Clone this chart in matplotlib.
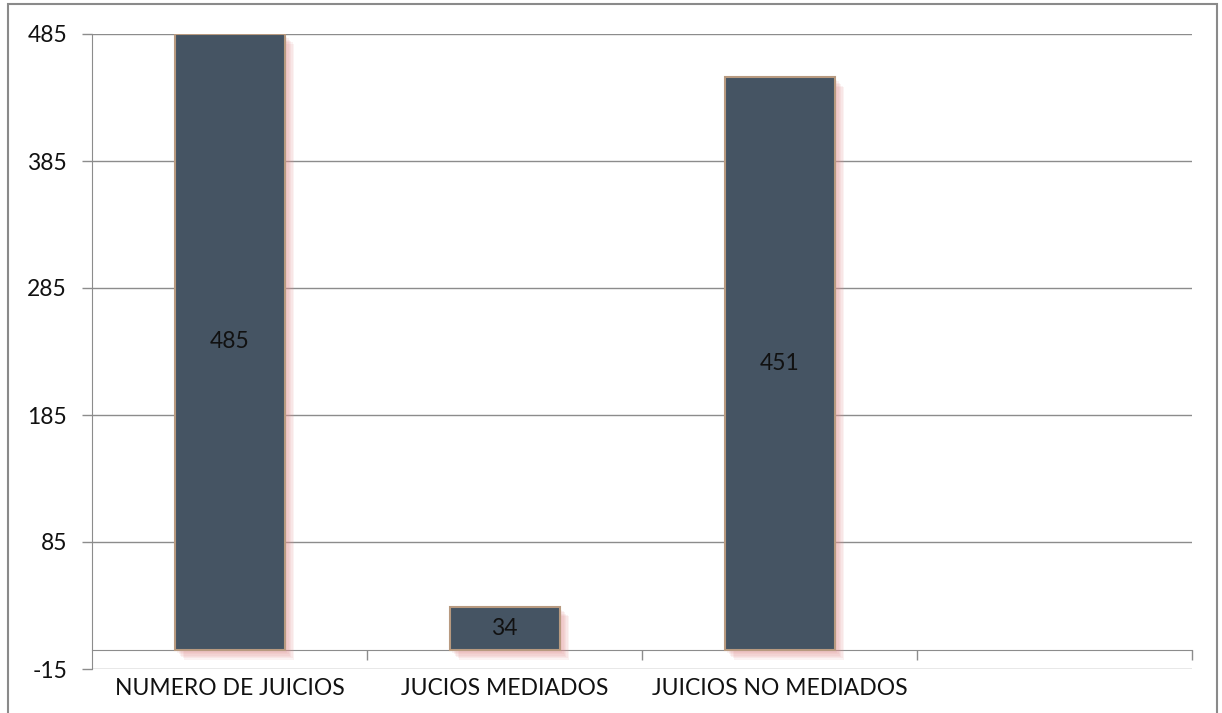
import matplotlib.pyplot as plt
import matplotlib.patheffects as pe
from matplotlib.patches import Rectangle
import numpy as np

categorias = ['NUMERO DE JUICIOS', 'JUCIOS MEDIADOS', 'JUICIOS NO MEDIADOS', '']
valores = [485, 34, 451]
yticks = [-15, 85, 185, 285, 385, 485]

plt.rcParams['font.family'] = ['Lato', 'DejaVu Sans']
plt.rcParams['axes.unicode_minus'] = False

fig = plt.figure(figsize=(12.22, 7.13), dpi=100)
ax = fig.add_axes([92 / 1222, 1 - 669 / 713, 1100 / 1222, 635 / 713])

gris = '#8c8c8c'
x = np.arange(len(valores))

sombra = [pe.SimplePatchShadow(offset=(d, -d), shadow_rgbFace='#e39595', alpha=0.12)
          for d in (1, 2, 3, 4, 5, 6, 7)] + [pe.Normal()]
barras = ax.bar(x, valores, width=0.4, color='#455463', edgecolor='#b89a80',
                linewidth=1.5, zorder=3)
for b in barras:
    b.set_path_effects(sombra)

for xi, v in zip(x, valores):
    ax.text(xi, v / 2, str(v), ha='center', va='center', fontsize=16.5,
            color='#111111', zorder=4)

ax.set_xlim(-0.5, len(categorias) - 0.5)
ax.set_ylim(-15, 485)
ax.set_yticks(yticks)
ax.yaxis.grid(True, color=gris, linewidth=1)
ax.set_axisbelow(True)
ax.tick_params(axis='y', length=7, width=1, color=gris, labelsize=16.5,
               labelcolor='#111111', pad=11)

ax.spines['top'].set_visible(False)
ax.spines['right'].set_visible(False)
ax.spines['left'].set_color(gris)
ax.spines['bottom'].set_color(gris)
ax.spines['bottom'].set_position(('data', 0))

ax.set_xticks(range(len(categorias)))
ax.set_xticklabels(categorias)
ax.set_xticks(np.arange(0.5, len(categorias)), minor=True)
ax.tick_params(axis='x', which='major', length=0, labelsize=16.5,
               labelcolor='#111111', pad=20)
ax.tick_params(axis='x', which='minor', length=7, width=1, color=gris,
               direction='out')

borde = Rectangle((8 / 1222, -0.1), 1209 / 1222, 1.1 - 4 / 713,
                  transform=fig.transFigure, fill=False, edgecolor='#8a8a8a',
                  linewidth=1.5, clip_on=False)
fig.patches.append(borde)

fig.savefig('out.png', dpi=100)
